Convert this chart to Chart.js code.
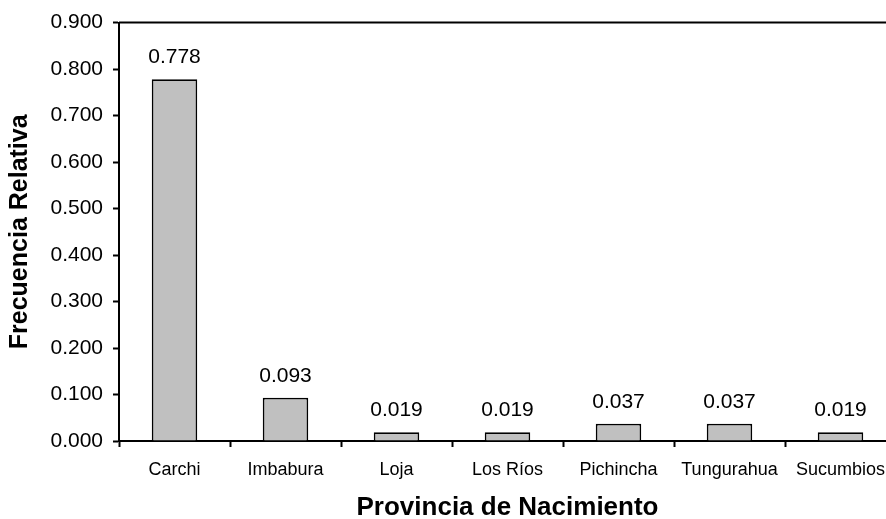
<!DOCTYPE html>
<html>
<head>
<meta charset="utf-8">
<script src="https://cdn.jsdelivr.net/npm/chart.js@4/dist/chart.umd.min.js"></script>
<style>
  html, body { margin: 0; padding: 0; background: #fff; overflow: hidden; width: 886px; height: 519px; }
  #wrap { position: relative; width: 900px; height: 519px; }
</style>
</head>
<body>
<div id="wrap"><canvas id="c"></canvas></div>
<script>
const categories = ["Carchi", "Imbabura", "Loja", "Los Ríos", "Pichincha", "Tungurahua", "Sucumbios"];
const values = [0.778, 0.093, 0.019, 0.019, 0.037, 0.037, 0.019];
const yTitle = "Frecuencia Relativa";
const xTitle = "Provincia de Nacimiento";

const FONT = "'Liberation Sans', Arial, sans-serif";

const labelPlugin = {
  id: 'barLabels',
  afterDatasetsDraw(chart) {
    const ctx = chart.ctx;
    const meta = chart.getDatasetMeta(0);
    ctx.save();
    ctx.font = "21px " + FONT;
    ctx.fillStyle = "#000";
    ctx.textAlign = "center";
    ctx.textBaseline = "alphabetic";
    meta.data.forEach((bar, i) => {
      ctx.fillText(values[i].toFixed(3), bar.x, bar.y - 16);
    });
    ctx.restore();
  }
};

const framePlugin = {
  id: 'frame',
  afterDraw(chart) {
    const a = chart.chartArea;
    const ctx = chart.ctx;
    ctx.save();
    ctx.strokeStyle = "#000";
    ctx.lineWidth = 2;
    ctx.beginPath();
    ctx.moveTo(a.left, a.top);
    ctx.lineTo(a.right, a.top);
    ctx.lineTo(a.right, a.bottom);
    ctx.stroke();
    ctx.restore();
  }
};

new Chart(document.getElementById('c'), {
  type: 'bar',
  data: {
    labels: categories,
    datasets: [{
      data: values,
      backgroundColor: "#c0c0c0",
      borderColor: "#000",
      borderWidth: 1.75,
      categoryPercentage: 1.0,
      barPercentage: 0.41
    }]
  },
  options: {
    responsive: true,
    maintainAspectRatio: false,
    animation: false,
    layout: { padding: { top: 20, right: 4, left: 0, bottom: 0 } },
    plugins: { legend: { display: false }, tooltip: { enabled: false } },
    scales: {
      x: {
        offset: true,
        grid: { display: true, drawOnChartArea: false, offset: true, tickLength: 6, tickColor: "#000", tickWidth: 2 },
        border: { display: true, color: "#000", width: 2 },
        ticks: { color: "#000", font: { family: FONT, size: 18 }, padding: 12, maxRotation: 0, autoSkip: false },
        title: { display: true, text: xTitle, color: "#000", font: { family: FONT, size: 26, weight: 'bold' }, padding: { top: 0, bottom: -4 } },
        afterFit(scale) { scale.height = 78; }
      },
      y: {
        min: 0, max: 0.9,
        ticks: { stepSize: 0.1, color: "#000", font: { family: FONT, size: 21 }, padding: 10,
                 callback: v => Number(v).toFixed(3) },
        grid: { display: true, drawOnChartArea: false, tickLength: 6, tickColor: "#000", tickWidth: 2 },
        border: { display: true, color: "#000", width: 2 },
        title: { display: true, text: yTitle, color: "#000", font: { family: FONT, size: 25, weight: 'bold' }, padding: { top: 5, bottom: 0 } },
        afterFit(scale) { scale.width = 119; }
      }
    }
  },
  plugins: [labelPlugin, framePlugin]
});
</script>
</body>
</html>
